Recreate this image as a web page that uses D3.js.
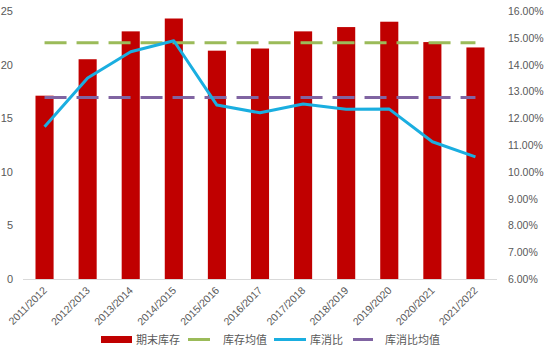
<!DOCTYPE html>
<html>
<head>
<meta charset="utf-8">
<script src="https://cdn.jsdelivr.net/npm/d3@7"></script>
<style>
  html, body { margin: 0; padding: 0; background: #fff; }
  text { font-family: "Liberation Sans", "Noto Sans CJK SC", sans-serif; fill: #595959; }
</style>
</head>
<body>
<svg id="chart" width="550" height="351"></svg>
<script>
// Seasons and values
const seasons = ["2011/2012", "2012/2013", "2013/2014", "2014/2015", "2015/2016", "2016/2017",
                 "2017/2018", "2018/2019", "2019/2020", "2020/2021", "2021/2022"];
const stock = [17.1, 20.5, 23.1, 24.3, 21.3, 21.5, 23.1, 23.5, 24.0, 22.1, 21.6];   // 期末库存
const ratio = [11.68, 13.5, 14.48, 14.89, 12.49, 12.2, 12.53, 12.33, 12.34, 11.12, 10.56]; // 库消比 (%)
const stockMean = 22.04;   // 库存均值
const ratioMean = 12.77;   // 库消比均值 (%)
const leftTicks = [0, 5, 10, 15, 20, 25];
const rightTicks = [6, 7, 8, 9, 10, 11, 12, 13, 14, 15, 16];

const COLORS = {
  bar:   "#C00000",
  green: "#9BBB59",
  blue:  "#1AAEE0",
  purple:"#8064A2",
  axis:  "#D9D9D9",
};

const svg = d3.select("#chart");
const plot = { left: 23, right: 497, top: 11, bottom: 279 };

const x = d3.scaleBand().domain(seasons).range([plot.left, plot.right]).paddingInner(0.58).paddingOuter(0.29);
const yL = d3.scaleLinear().domain([0, 25]).range([plot.bottom, plot.top]);
const yR = d3.scaleLinear().domain([6, 16]).range([plot.bottom, plot.top]);
const cx = d => x(d) + x.bandwidth() / 2;

// Bars
svg.append("g").selectAll("rect")
  .data(stock)
  .join("rect")
  .attr("x", (d, i) => x(seasons[i]))
  .attr("y", d => yL(d))
  .attr("width", x.bandwidth())
  .attr("height", d => yL(0) - yL(d))
  .attr("fill", COLORS.bar);

// Baseline
svg.append("line")
  .attr("x1", plot.left).attr("x2", plot.right)
  .attr("y1", plot.bottom + 0.5).attr("y2", plot.bottom + 0.5)
  .attr("stroke", COLORS.axis).attr("stroke-width", 1);

// Mean lines (dashed)
const first = cx(seasons[0]), last = cx(seasons[seasons.length - 1]);
svg.append("line")
  .attr("x1", first).attr("x2", last)
  .attr("y1", yL(stockMean)).attr("y2", yL(stockMean))
  .attr("stroke", COLORS.green).attr("stroke-width", 3)
  .attr("stroke-dasharray", "22 10");
svg.append("line")
  .attr("x1", first).attr("x2", last)
  .attr("y1", yR(ratioMean)).attr("y2", yR(ratioMean))
  .attr("stroke", COLORS.purple).attr("stroke-width", 3)
  .attr("stroke-dasharray", "22 10");

// Ratio line
const line = d3.line().x((d, i) => cx(seasons[i])).y(d => yR(d));
svg.append("path")
  .attr("d", line(ratio))
  .attr("fill", "none")
  .attr("stroke", COLORS.blue)
  .attr("stroke-width", 3)
  .attr("stroke-linejoin", "round");

// Left axis labels
svg.append("g").selectAll("text")
  .data(leftTicks)
  .join("text")
  .attr("x", 13).attr("y", d => yL(d) + 4)
  .attr("text-anchor", "end")
  .attr("font-size", 11)
  .text(d => d);

// Right axis labels
svg.append("g").selectAll("text")
  .data(rightTicks)
  .join("text")
  .attr("x", 508).attr("y", d => yR(d) + 4)
  .attr("font-size", 10.5)
  .text(d => d.toFixed(2) + "%");

// Category labels, rotated
svg.append("g").selectAll("text")
  .data(seasons)
  .join("text")
  .attr("transform", d => `translate(${cx(d) + 3},${plot.bottom + 12}) rotate(-45)`)
  .attr("text-anchor", "end")
  .attr("font-size", 10.5)
  .text(d => d);

// Legend
const legend = svg.append("g").attr("font-size", 11);
legend.append("rect").attr("x", 101).attr("y", 336).attr("width", 31).attr("height", 7).attr("fill", COLORS.bar);
legend.append("text").attr("x", 136).attr("y", 344).text("期末库存");
legend.append("line").attr("x1", 188).attr("x2", 210).attr("y1", 339.5).attr("y2", 339.5)
  .attr("stroke", COLORS.green).attr("stroke-width", 3);
legend.append("text").attr("x", 223).attr("y", 344).text("库存均值");
legend.append("line").attr("x1", 274).attr("x2", 306).attr("y1", 339.5).attr("y2", 339.5)
  .attr("stroke", COLORS.blue).attr("stroke-width", 3);
legend.append("text").attr("x", 310).attr("y", 344).text("库消比");
legend.append("line").attr("x1", 353).attr("x2", 373).attr("y1", 339.5).attr("y2", 339.5)
  .attr("stroke", COLORS.purple).attr("stroke-width", 3);
legend.append("text").attr("x", 385).attr("y", 344).text("库消比均值");
</script>
</body>
</html>
